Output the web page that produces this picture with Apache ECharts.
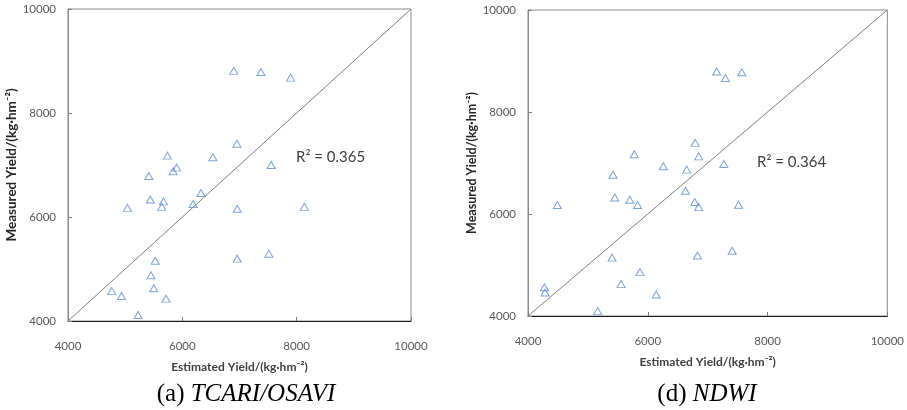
<!DOCTYPE html>
<html>
<head>
<meta charset="utf-8">
<script src="https://cdn.jsdelivr.net/npm/echarts@6/dist/echarts.min.js"></script>
<style>
html,body{margin:0;padding:0;background:#fff;}
#c{width:907px;height:410px;}
</style>
</head>
<body>
<div id="c"></div>
<script>
// Panel (a) TCARI/OSAVI
const estA  = [6900, 7375, 7895, 6955, 5740, 6535, 7555, 5900, 5840, 5415, 6325, 5440, 5670, 6190, 5640, 5040, 6960, 8135, 7515, 6960, 5525, 5450, 5500, 4765, 4935, 5715, 5225];
const measA = [8810, 8790, 8680, 7410, 7180, 7150, 7000, 6950, 6880, 6790, 6460, 6335, 6300, 6250, 6195, 6175, 6160, 6195, 5295, 5200, 5160, 4880, 4630, 4575, 4480, 4430, 4115];
// Panel (d) NDWI
const estD  = [7150, 7295, 7570, 6790, 6850, 5775, 6260, 7270, 6650, 5420, 6630, 5450, 5700, 6785, 5830, 4490, 6850, 7515, 7410, 6830, 5405, 5870, 5555, 4275, 4285, 6140, 5165];
const measD = [8795, 8665, 8780, 7395, 7130, 7170, 6935, 6980, 6870, 6770, 6455, 6325, 6280, 6235, 6175, 6175, 6135, 6180, 5280, 5185, 5145, 4860, 4625, 4565, 4460, 4420, 4095];
// 1:1 line and axes
const oneToOne = [4000, 10000];
const axisRange = {min: 4000, max: 10000, step: 2000};
const xTitle = 'Estimated Yield/(kg·hm⁻²)';
const yTitle = 'Measured Yield/(kg·hm⁻²)';
const r2Labels = ['R² = 0.365', 'R² = 0.364'];
const captionPrefix = ['(a) ', '(d) '];
const captionName = ['TCARI/OSAVI', 'NDWI'];

const sans = 'Lato, "Open Sans", sans-serif';
const pts = (xs, ys) => xs.map((x, i) => [x, ys[i]]);
const plain = v => String(v);

function xAx(idx) {
  return {
    type: 'value', gridIndex: idx,
    min: axisRange.min, max: axisRange.max, interval: axisRange.step,
    name: xTitle, nameLocation: 'middle', nameGap: 40,
    nameTextStyle: {fontFamily: sans, fontWeight: 'bold', fontSize: 12, color: '#404040'},
    axisLine: {show: true, lineStyle: {color: '#1a1a1a', width: 1}},
    axisTick: {show: true, inside: true, length: 4, lineStyle: {color: '#808080'}},
    axisLabel: {margin: 19, fontFamily: sans, fontSize: 11.5, color: '#595959', formatter: plain},
    splitLine: {show: false}
  };
}
function yAx(idx, gap, fs) {
  return {
    type: 'value', gridIndex: idx,
    min: axisRange.min, max: axisRange.max, interval: axisRange.step,
    name: yTitle, nameLocation: 'middle', nameGap: gap, nameRotate: 90,
    nameTextStyle: {fontFamily: sans, fontWeight: 'bold', fontSize: fs, color: '#262626'},
    axisLine: {show: true, lineStyle: {color: '#8a8a8a', width: 1}},
    axisTick: {show: true, inside: true, length: 4, lineStyle: {color: '#808080'}},
    axisLabel: {margin: 12, fontFamily: sans, fontSize: 11.5, color: '#595959', formatter: plain},
    splitLine: {show: false}
  };
}
function scatter(idx, data) {
  return {
    type: 'scatter', xAxisIndex: idx, yAxisIndex: idx, data: data,
    symbol: 'triangle', symbolSize: [8, 7],
    itemStyle: {color: 'rgba(0,0,0,0)', borderColor: '#5d8ccf', borderWidth: 1},
    silent: true, z: 3
  };
}
function diag(idx) {
  return {
    type: 'line', xAxisIndex: idx, yAxisIndex: idx,
    data: pts(oneToOne, oneToOne), symbol: 'none',
    lineStyle: {color: '#7f7f7f', width: 1}, silent: true, z: 2
  };
}
function caption(i, x) {
  const serif = '"Liberation Serif", "Times New Roman", serif';
  return {type: 'text', x: x, y: 394, style: {
    text: '{n|' + captionPrefix[i] + '}{i|' + captionName[i] + '}',
    textAlign: 'center', textVerticalAlign: 'middle',
    rich: {n: {fontFamily: serif, fontSize: 25, fill: '#000'}, i: {fontFamily: serif, fontStyle: 'italic', fontSize: 25, fill: '#000'}}
  }};
}

const option = {
  animation: false,
  backgroundColor: '#fff',
  grid: [
    {left: 68, top: 9, width: 343, height: 312, show: true, borderColor: '#8a8a8a', borderWidth: 1, containLabel: false},
    {left: 528, top: 10, width: 363, height: 306, show: true, borderColor: '#8a8a8a', borderWidth: 1, containLabel: false}
  ],
  xAxis: [xAx(0), xAx(1)],
  yAxis: [yAx(0, 42, 13.5), yAx(1, 46, 12.5)],
  series: [diag(0), scatter(0, pts(estA, measA)), diag(1), scatter(1, pts(estD, measD))],
  graphic: [
    {type: 'text', x: 296, y: 157, style: {text: r2Labels[0], fontFamily: sans, fontSize: 15, fill: '#404040', textAlign: 'left', textVerticalAlign: 'middle'}},
    {type: 'text', x: 757, y: 162, style: {text: r2Labels[1], fontFamily: sans, fontSize: 15, fill: '#404040', textAlign: 'left', textVerticalAlign: 'middle'}},
    caption(0, 246),
    caption(1, 707)
  ]
};
echarts.init(document.getElementById('c'), null, {renderer: 'canvas'}).setOption(option);
</script>
</body>
</html>
